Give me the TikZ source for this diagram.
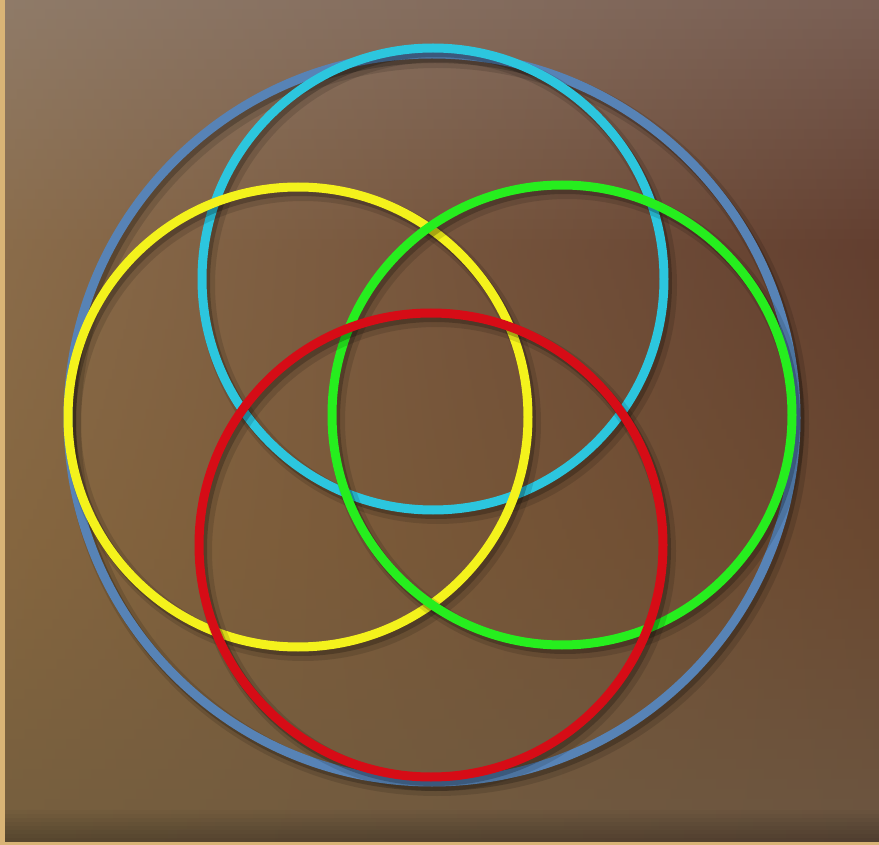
\documentclass[tikz,border=0pt]{standalone}
\definecolor{lA}{HTML}{8F7B69}
\definecolor{lB}{HTML}{8A6C4A}
\definecolor{lC}{HTML}{85663F}
\definecolor{lD}{HTML}{755E3E}
\definecolor{rA}{HTML}{7A6055}
\definecolor{rB}{HTML}{623E2F}
\definecolor{rC}{HTML}{6A4830}
\definecolor{rD}{HTML}{6C5641}
\definecolor{tan}{HTML}{D9B476}
\definecolor{ringblue}{HTML}{5783B6}
\definecolor{ringcyan}{HTML}{2CC6DE}
\definecolor{ringyellow}{HTML}{F4F21C}
\definecolor{ringgreen}{HTML}{26EE1E}
\definecolor{ringred}{HTML}{D60C16}
\tikzset{
  ring/.style={line width=4.5pt},
  ringshadowA/.style={line width=8pt, black, opacity=0.12},
  ringshadowB/.style={line width=5pt, black, opacity=0.22},
}
\begin{document}
\begin{tikzpicture}[x=0.5pt,y=-0.5pt]
\useasboundingbox (0,0) rectangle (879,845);
% background gradient, strip by strip
\foreach \i in {0,...,84}{
  \pgfmathsetmacro\yy{\i*10+5}
  \pgfmathtruncatemacro\seg{\yy<250 ? 0 : (\yy<550 ? 1 : 2)}
  \ifcase\seg
    \pgfmathtruncatemacro\p{(250-\yy)/250*100}
    \colorlet{L}{lA!\p!lB}\colorlet{R}{rA!\p!rB}
  \or
    \pgfmathtruncatemacro\p{(550-\yy)/300*100}
    \colorlet{L}{lB!\p!lC}\colorlet{R}{rB!\p!rC}
  \else
    \pgfmathtruncatemacro\p{(845-\yy)/295*100}
    \colorlet{L}{lC!\p!lD}\colorlet{R}{rC!\p!rD}
  \fi
  \shade[left color=L, right color=R] (0,\i*10-0.6) rectangle (879,\i*10+10.6);
}
% darkening towards the bottom edge
\foreach \k in {0,...,7}{
  \fill[black, opacity=0.03] (0,810+\k*4) rectangle (879,842);
}
\fill[tan] (0,0) rectangle (5,845);
\fill[tan] (0,842) rectangle (879,845);
% centres
\coordinate (cb) at (432,418);
\coordinate (cc) at (433,279);
\coordinate (cy) at (298,417);
\coordinate (cg) at (562,415);
\coordinate (cr) at (431,545);
% blue
\draw[ringshadowA] ([shift={(5,6)}]cb) circle[radius=364];
\draw[ringshadowB] ([shift={(3,4)}]cb) circle[radius=364];
\draw[ring, ringblue] (cb) circle[radius=364];
% cyan
\draw[ringshadowA] ([shift={(5,6)}]cc) circle[radius=231];
\draw[ringshadowB] ([shift={(3,4)}]cc) circle[radius=231];
\draw[ring, ringcyan] (cc) circle[radius=231];
% yellow
\draw[ringshadowA] ([shift={(5,6)}]cy) circle[radius=230];
\draw[ringshadowB] ([shift={(3,4)}]cy) circle[radius=230];
\draw[ring, ringyellow] (cy) circle[radius=230];
% green
\draw[ringshadowA] ([shift={(5,6)}]cg) circle[radius=230];
\draw[ringshadowB] ([shift={(3,4)}]cg) circle[radius=230];
\draw[ring, ringgreen] (cg) circle[radius=230];
% red
\draw[ringshadowA] ([shift={(5,6)}]cr) circle[radius=232];
\draw[ringshadowB] ([shift={(3,4)}]cr) circle[radius=232];
\draw[ring, ringred] (cr) circle[radius=232];
\end{tikzpicture}
\end{document}
